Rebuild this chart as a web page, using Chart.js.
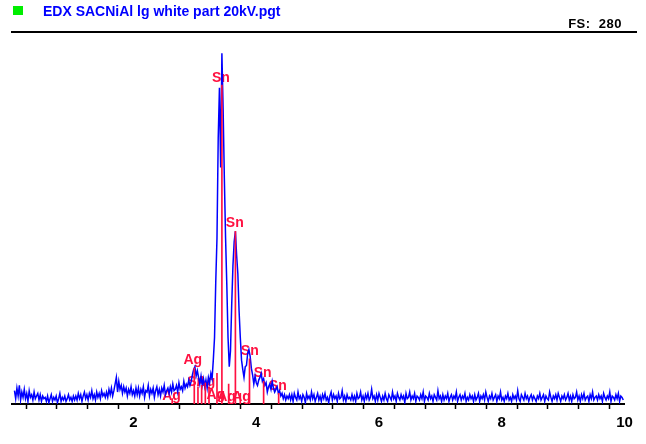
<!DOCTYPE html>
<html>
<head>
<meta charset="utf-8">
<script src="https://cdn.jsdelivr.net/npm/chart.js@4/dist/chart.umd.min.js"></script>
<style>
  html, body { margin: 0; padding: 0; background: #fff; }
  #wrap { position: relative; width: 646px; height: 444px; overflow: hidden; background: #fff; }
  #chart { position: absolute; left: 0; top: 0; }
  #marker { position: absolute; left: 13px; top: 6px; width: 10px; height: 9px; background: #00ee00; }
  #title { position: absolute; left: 43px; top: 3px; font: bold 14px "Liberation Sans", Arial, sans-serif; color: #0000ff; white-space: pre; }
  #fs { position: absolute; right: 24px; top: 16px; font: bold 13px "Liberation Sans", Arial, sans-serif; color: #000; white-space: pre; letter-spacing: 0.5px; }
  #topline { position: absolute; left: 11px; top: 31px; width: 626px; height: 2px; background: #000; }
</style>
</head>
<body>
<div id="wrap">
  <canvas id="chart" width="646" height="444"></canvas>
  <div id="marker"></div>
  <div id="title">EDX SACNiAl lg white part 20kV.pgt</div>
  <div id="fs">FS:  280</div>
  <div id="topline"></div>
</div>
<script>
// Spectrum: channel energies start at energyStart (keV) with a step of energyStep (keV)
const energyStart = 0.06;
const energyStep = 0.02;
const fullScale = 280;

// Counts per channel (rows of 0.5 keV)
const counts = [
  10,4,12,6,14,3,9,5,11,4,8,2,10,5,7,3,9,4,6,8,3,7,2,6,4,
  5,2,6,1,4,7,2,5,3,6,1,4,8,2,5,3,6,2,4,7,3,5,2,6,3,
  6,3,8,4,7,2,6,9,4,7,3,8,5,10,4,7,3,9,5,8,4,10,6,8,5,
  9,5,11,7,12,6,10,15,20,9,17,11,14,8,13,9,12,6,11,8,13,7,10,6,12,
  7,12,6,11,8,13,5,10,9,14,6,11,8,12,5,10,13,7,11,6,12,9,14,7,10,
  12,8,13,9,15,10,11,14,9,16,11,13,10,17,12,15,13,18,14,17,22,26,28,21,25,
  20,15,21,14,19,13,18,12,20,16,23,19,33,50,92,125,200,238,178,264,222,170,125,90,50,
  28,40,75,104,122,130,112,98,70,50,33,26,20,28,29,38,41,36,27,22,15,21,16,14,18,
  20,23,17,19,14,16,9,13,15,11,17,12,9,11,13,8,10,6,8,4,7,3,6,4,7,
  3,7,2,8,5,3,9,4,6,2,7,5,1,8,4,6,3,9,4,7,2,5,8,3,6,
  2,7,4,8,3,5,1,6,9,3,7,4,6,2,8,4,5,10,3,6,2,7,4,5,3,
  7,3,6,2,8,4,5,9,3,6,2,7,4,8,3,5,11,4,6,2,7,3,8,5,2,
  6,3,8,4,2,7,5,3,9,4,6,2,8,5,3,7,4,6,1,8,4,5,9,3,6,
  4,8,2,6,5,3,7,4,9,2,6,5,3,8,4,6,2,7,5,3,10,4,6,2,7,
  3,6,4,8,2,5,7,3,6,4,9,2,5,7,3,6,4,8,2,5,3,7,4,6,2,
  7,3,5,8,2,6,4,7,3,9,5,2,6,4,8,3,5,7,2,6,4,9,3,5,2,
  6,4,8,3,5,2,7,4,6,3,10,4,2,7,5,3,8,4,6,2,5,7,3,6,4,
  2,6,4,8,3,5,7,2,6,4,3,9,5,2,6,4,7,3,8,5,2,6,4,7,3,
  5,8,3,6,2,7,4,5,9,3,6,2,7,4,8,3,5,6,2,7,4,9,3,5,6,
  3,7,4,6,2,8,5,3,6,4,9,2,6,5,3,7,4,8,2,6,5,3
];

// Element marker lines (keV) and their heights (counts)
const lineEnergies = [2.63, 2.99, 3.05, 3.11, 3.17, 3.23, 3.36, 3.44, 3.55, 3.66, 3.74, 3.89, 4.12, 4.365];
const lineHeights  = [4,    27,   13,   14,   16,   13,   23,   240,  15,   130,  8,    34,   17,   8];

// Marker labels
const labelTexts    = ["Ag", "Ag", "Sn", "Ag", "Ag", "Ag", "Ag", "Sn", "Sn", "Sn", "Sn", "Sn"];
const labelEnergies = [2.62, 2.965, 3.02, 3.18, 3.34, 3.515, 3.76, 3.425, 3.65, 3.895, 4.105, 4.35];
const labelCounts   = [6,    33,    16.5, 16.5, 6.5,  5.5,   5,    245,   136,  40,    23,    13.5];

// X-axis tick labels (keV)
const tickLabels = [2, 4, 6, 8, 10];

const spectrumPoints = counts.map((c, i) => ({ x: +(energyStart + i * energyStep).toFixed(3), y: c }));
const linePoints = lineEnergies.map((e, i) => ({ x: e, y: lineHeights[i] }));

const markerLabelsPlugin = {
  id: 'markerLabels',
  beforeDatasetsDraw(chart) {
    const { ctx, scales } = chart;
    ctx.save();
    ctx.font = 'bold 14px "Liberation Sans", Arial, sans-serif';
    ctx.fillStyle = '#ff1040';
    ctx.textAlign = 'center';
    ctx.textBaseline = 'middle';
    labelTexts.forEach((t, i) => {
      ctx.fillText(t, scales.x.getPixelForValue(labelEnergies[i]), scales.y.getPixelForValue(labelCounts[i]));
    });
    ctx.restore();
  }
};

new Chart(document.getElementById('chart'), {
  type: 'line',
  data: {
    datasets: [
      {
        type: 'bar',
        data: linePoints,
        backgroundColor: '#ff1040',
        borderWidth: 0,
        barThickness: 1,
        order: 0
      },
      {
        type: 'line',
        data: spectrumPoints,
        borderColor: '#0000ff',
        borderWidth: 1.5,
        pointRadius: 0,
        tension: 0,
        fill: false,
        order: 1
      }
    ]
  },
  options: {
    responsive: false,
    animation: false,
    devicePixelRatio: 1,
    layout: { padding: { left: 12, right: 21.5, top: 32, bottom: 7 } },
    plugins: { legend: { display: false }, tooltip: { enabled: false } },
    scales: {
      x: {
        type: 'linear',
        min: 0.02,
        max: 10,
        offset: false,
        grid: { drawOnChartArea: false, drawTicks: true, tickLength: 5, tickWidth: 1.5, tickColor: '#000' },
        border: { display: true, color: '#000', width: 2 },
        ticks: {
          stepSize: 0.5,
          autoSkip: false,
          maxRotation: 0,
          includeBounds: false,
          padding: 5,
          color: '#000',
          font: { family: '"Liberation Sans", Arial, sans-serif', size: 15, weight: 'bold' },
          callback: (v) => tickLabels.includes(v) ? String(v) : ''
        }
      },
      y: { type: 'linear', min: 0, max: fullScale, display: false }
    }
  },
  plugins: [markerLabelsPlugin]
});
</script>
</body>
</html>
